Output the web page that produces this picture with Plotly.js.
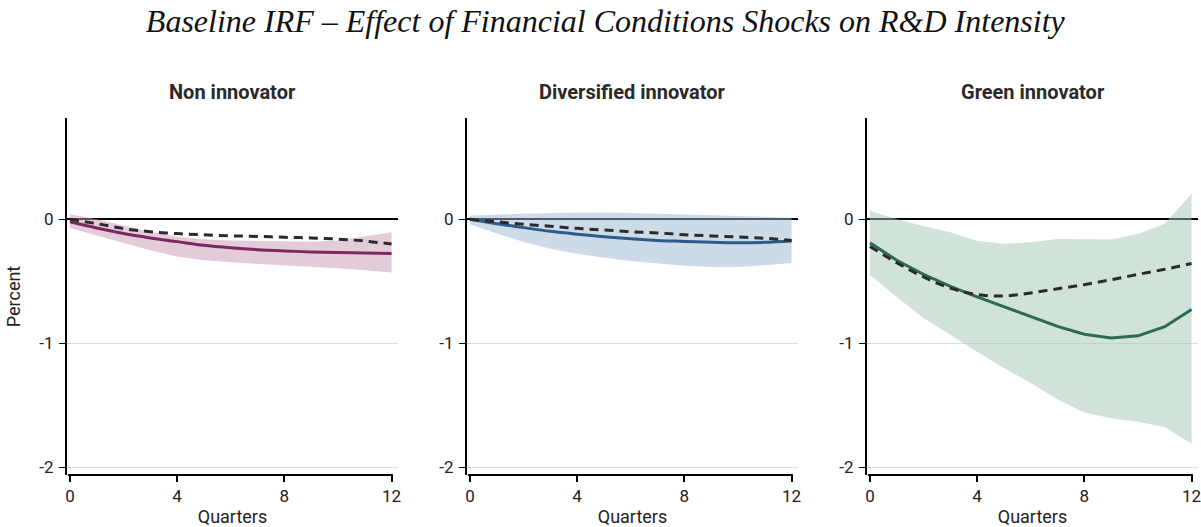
<!DOCTYPE html>
<html>
<head>
<meta charset="utf-8">
<script src="https://cdn.plot.ly/plotly-3.0.1.min.js"></script>
<style>html,body{margin:0;padding:0;background:#fff;}#chart{width:1201px;height:527px;}</style>
</head>
<body>
<div id="chart"></div>
<script>
const quarters = [0,1,2,3,4,5,6,7,8,9,10,11,12];
const panelTitles = ["Non innovator", "Diversified innovator", "Green innovator"];
const xTickVals = [0,4,8,12];
const yTickVals = [0,-1,-2];
const yTickText = ["0","-1","-2"];

// Non innovator
const nonIrf   = [-0.02,-0.07,-0.115,-0.15,-0.18,-0.21,-0.23,-0.245,-0.255,-0.263,-0.268,-0.272,-0.276];
const nonBase  = [0,-0.035,-0.075,-0.1,-0.115,-0.125,-0.133,-0.138,-0.145,-0.15,-0.16,-0.175,-0.2];
const nonUpper = [0.04,0.0,-0.05,-0.1,-0.14,-0.16,-0.17,-0.175,-0.18,-0.18,-0.17,-0.14,-0.105];
const nonLower = [-0.07,-0.13,-0.19,-0.25,-0.3,-0.33,-0.347,-0.358,-0.368,-0.384,-0.395,-0.41,-0.428];

// Diversified innovator
const divIrf   = [0,-0.035,-0.067,-0.097,-0.12,-0.14,-0.157,-0.17,-0.178,-0.186,-0.19,-0.186,-0.175];
const divBase  = [0,-0.02,-0.04,-0.056,-0.073,-0.086,-0.1,-0.11,-0.124,-0.134,-0.143,-0.153,-0.17];
const divUpper = [0.03,0.04,0.045,0.05,0.054,0.054,0.05,0.045,0.037,0.03,0.024,0.02,0.013];
const divLower = [-0.04,-0.115,-0.183,-0.237,-0.277,-0.31,-0.336,-0.358,-0.374,-0.384,-0.384,-0.37,-0.352];

// Green innovator
const grnIrf   = [-0.19,-0.33,-0.444,-0.54,-0.626,-0.707,-0.788,-0.863,-0.927,-0.957,-0.94,-0.866,-0.728];
const grnBase  = [-0.22,-0.35,-0.465,-0.555,-0.607,-0.618,-0.594,-0.56,-0.527,-0.487,-0.444,-0.403,-0.357];
const grnUpper = [0.07,0.003,-0.055,-0.105,-0.175,-0.198,-0.185,-0.158,-0.16,-0.162,-0.118,-0.035,0.207];
const grnLower = [-0.447,-0.626,-0.795,-0.935,-1.068,-1.2,-1.32,-1.453,-1.557,-1.605,-1.632,-1.675,-1.81];

const panels = [
  {irf: nonIrf, base: nonBase, up: nonUpper, lo: nonLower, line: "#7b2860", band: "rgba(199,152,181,0.5)"},
  {irf: divIrf, base: divBase, up: divUpper, lo: divLower, line: "#2d5b8a", band: "rgba(155,183,209,0.5)"},
  {irf: grnIrf, base: grnBase, up: grnUpper, lo: grnLower, line: "#2d6a4f", band: "rgba(163,197,177,0.5)"}
];

const W = 1131;
const domains = [[0, 331/W], [400/W, 731/W], [800/W, 1]];
const tickFont = {family: "Roboto, 'Liberation Sans', sans-serif", size: 17, color: "#222"};
const axTitleFont = {family: "Roboto, sans-serif", size: 18, color: "#222"};

const traces = [];
const layout = {
  width: 1201, height: 527,
  margin: {l: 67, r: 3, t: 118, b: 52},
  paper_bgcolor: "#fff", plot_bgcolor: "#fff",
  showlegend: false,
  title: {
    text: "Baseline IRF – Effect of Financial Conditions Shocks on R&amp;D Intensity",
    x: 0.504, xref: "container", xanchor: "center", y: 0.96, yref: "container", yanchor: "middle",
    font: {family: "'Liberation Serif', 'DejaVu Serif', serif", size: 32, color: "#111", style: "italic"}
  },
  annotations: [],
  shapes: []
};

panels.forEach((p, i) => {
  const n = i + 1;
  const xa = "x" + (n === 1 ? "" : n);
  const ya = "y" + (n === 1 ? "" : n);
  traces.push({x: quarters, y: p.lo, xaxis: xa, yaxis: ya, type: "scatter", mode: "lines",
    line: {width: 0, color: "rgba(0,0,0,0)"}, hoverinfo: "skip"});
  traces.push({x: quarters, y: p.up, xaxis: xa, yaxis: ya, type: "scatter", mode: "lines",
    line: {width: 0, color: "rgba(0,0,0,0)"}, fill: "tonexty", fillcolor: p.band, hoverinfo: "skip"});
  traces.push({x: quarters, y: p.irf, xaxis: xa, yaxis: ya, type: "scatter", mode: "lines",
    line: {width: 3, color: p.line, shape: i === 2 ? "linear" : "spline"}});
  traces.push({x: quarters, y: p.base, xaxis: xa, yaxis: ya, type: "scatter", mode: "lines",
    line: {width: 3, color: "#2b2b2b", dash: "9px,6px", shape: "spline"}});

  layout["xaxis" + (n === 1 ? "" : n)] = {
    domain: domains[i], anchor: ya, range: [-0.11, 12.24],
    tickvals: xTickVals, ticktext: xTickVals.map(String), ticks: "outside", ticklen: 6, tickwidth: 2, tickcolor: "#000",
    showline: false, showgrid: false, zeroline: false, tickfont: tickFont, ticklabeloverflow: "allow",
    title: {text: "Quarters", font: axTitleFont, standoff: 4},
    fixedrange: true
  };
  layout["yaxis" + (n === 1 ? "" : n)] = {
    domain: [0, 1], anchor: xa, range: [-2.062, 0.817],
    tickvals: yTickVals, ticktext: yTickText, ticks: "outside", ticklen: 6, tickwidth: 1.5, tickcolor: "#000",
    showline: true, linecolor: "#000", linewidth: 2,
    showgrid: true, gridcolor: "#dcdde2", gridwidth: 1.5,
    zeroline: true, zerolinecolor: "#000", zerolinewidth: 2,
    tickfont: tickFont, ticklabelstandoff: 2,
    title: n === 1 ? {text: "Percent", font: axTitleFont, standoff: 14} : {text: ""},
    fixedrange: true
  };
  layout.shapes.push({type: "line", xref: xa, yref: ya + " domain", x0: -0.07, x1: 12.05, y0: 0, y1: 0,
    line: {color: "#000", width: 2}});
  layout.annotations.push({text: "<b>" + panelTitles[i] + "</b>", xref: "paper", yref: "paper",
    x: (domains[i][0] + domains[i][1]) / 2, y: 1, yshift: 26, xanchor: "center", yanchor: "middle", showarrow: false,
    font: {family: "Roboto, sans-serif", size: 20, color: "#2a2a2a"}});
});

Plotly.newPlot("chart", traces, layout, {displayModeBar: false, staticPlot: true});
</script>
</body>
</html>
